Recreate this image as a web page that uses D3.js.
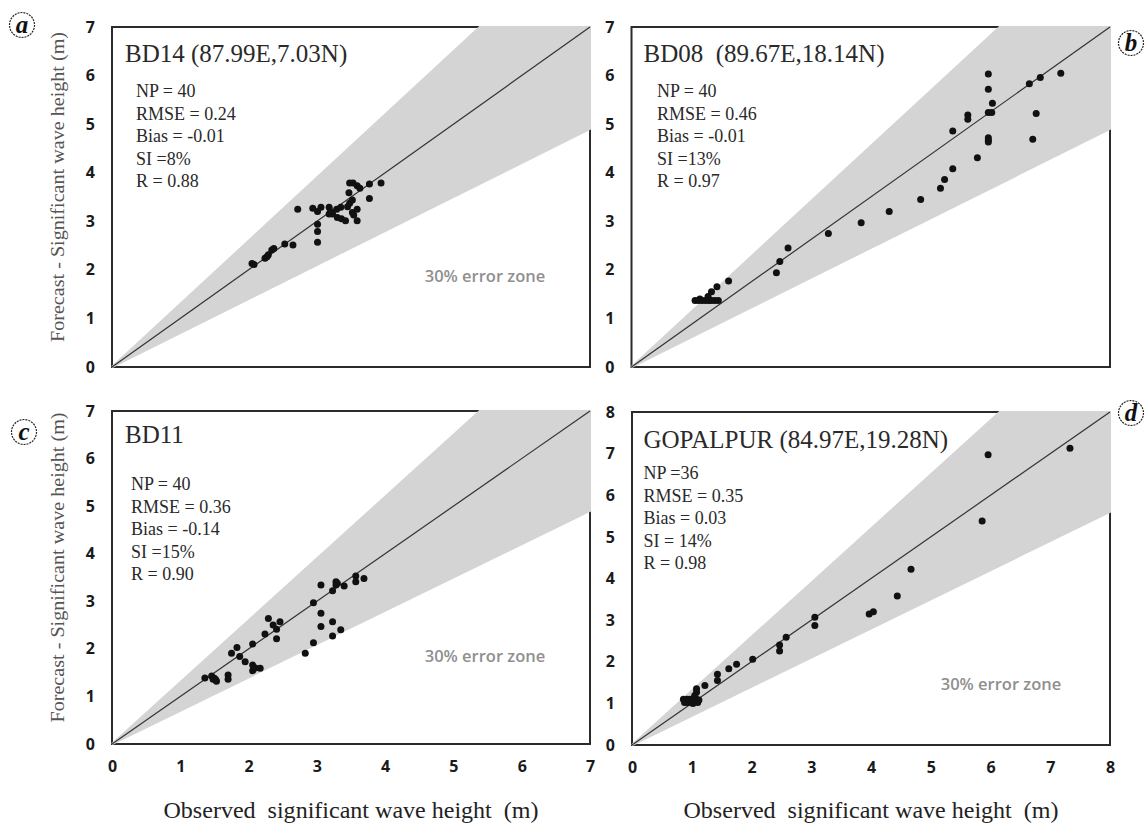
<!DOCTYPE html>
<html><head><meta charset="utf-8">
<script src="https://cdn.jsdelivr.net/npm/d3@7/dist/d3.min.js"></script>
<style>
body{margin:0;background:#fff;}
svg{display:block;}
.pre{white-space:pre;}
</style></head><body>
<svg id="chart" width="1148" height="825"></svg>
<script>
// ---------- data ----------
const ticks7 = [0, 1, 2, 3, 4, 5, 6, 7];
const ticks8 = [0, 1, 2, 3, 4, 5, 6, 7, 8];
const errorBand = 0.3; // 30% error zone

// (a) BD14
const bd14Obs = [2.05,2.08,2.24,2.27,2.29,2.34,2.37,2.53,2.65,2.72,2.94,3.01,3.06,3.01,3.01,3.01,3.18,3.18,3.23,3.29,3.35,3.30,3.36,3.42,3.48,3.47,3.48,3.53,3.59,3.63,3.52,3.52,3.59,3.54,3.59,3.77,3.77,3.94,3.20,3.45];
const bd14Fc  = [2.13,2.11,2.24,2.27,2.31,2.41,2.44,2.53,2.51,3.25,3.27,3.20,3.29,2.94,2.79,2.57,3.29,3.15,3.15,3.25,3.29,3.08,3.05,3.01,3.37,3.59,3.79,3.79,3.73,3.68,3.44,3.18,3.25,3.13,3.01,3.77,3.47,3.79,3.20,3.30];
const bd14Stats = ["NP = 40", "RMSE = 0.24", "Bias = -0.01", "SI =8%", "R = 0.88"];

// (b) BD08
const bd08Obs = [0.93,0.98,1.00,1.03,1.08,1.13,1.17,1.22,1.27,1.12,1.17,1.25,1.42,2.12,2.17,2.29,2.88,3.36,3.77,4.23,4.52,4.58,4.70,4.70,4.92,4.92,5.06,5.22,5.22,5.22,5.27,5.28,5.22,5.22,5.22,5.82,5.98,6.28,5.92,5.87];
const bd08Fc  = [1.37,1.37,1.40,1.37,1.37,1.37,1.37,1.37,1.37,1.45,1.55,1.65,1.77,1.94,2.17,2.45,2.75,2.97,3.20,3.45,3.68,3.86,4.08,4.86,5.19,5.10,4.31,6.03,5.72,5.24,5.24,5.43,4.72,4.67,4.63,5.83,5.96,6.05,5.22,4.69];
const bd08Stats = ["NP = 40", "RMSE = 0.46", "Bias = -0.01", "SI =13%", "R = 0.97"];

// (c) BD11
const bd11Obs = [1.36,1.46,1.48,1.53,1.50,1.52,1.70,1.70,1.75,1.83,1.87,1.95,2.06,2.06,2.06,2.10,2.17,2.24,2.29,2.36,2.41,2.46,2.41,2.83,2.95,2.95,3.06,3.06,3.06,3.23,3.23,3.23,3.28,3.28,3.30,3.35,3.40,3.57,3.57,3.69];
const bd11Fc  = [1.39,1.43,1.36,1.32,1.38,1.35,1.45,1.36,1.91,2.03,1.84,1.73,2.10,1.66,1.54,1.60,1.59,2.31,2.64,2.50,2.41,2.57,2.21,1.91,2.13,2.97,3.34,2.75,2.47,3.22,2.57,2.27,3.41,3.34,3.38,2.40,3.32,3.53,3.41,3.48];
const bd11Stats = ["NP = 40", "RMSE = 0.36", "Bias = -0.14", "SI =15%", "R = 0.90"];

// (d) GOPALPUR
const gopObs = [7.33,5.96,5.86,4.67,4.44,3.97,4.04,3.06,3.06,2.58,2.47,2.47,2.02,1.75,1.62,1.43,1.43,1.22,1.08,1.08,1.05,1.03,0.97,0.92,0.86,1.08,0.88,0.90,0.93,0.95,0.98,1.00,1.02,1.05,1.10,1.12];
const gopFc  = [7.13,6.97,5.38,4.22,3.58,3.15,3.20,3.07,2.87,2.59,2.40,2.26,2.06,1.94,1.83,1.70,1.55,1.43,1.35,1.27,1.19,1.12,1.10,1.10,1.10,1.10,1.02,1.05,1.02,1.07,1.03,1.06,1.00,1.04,1.02,1.08];
const gopStats = ["NP =36", "RMSE = 0.35", "Bias = 0.03", "SI = 14%", "R = 0.98"];

const xTitle = "Observed  significant wave height  (m)";
const yTitle = "Forecast - Significant wave height (m)";
const zoneText = "30% error zone";

// ---------- layout ----------
const panels = [
  {label:"a", title:"BD14 (87.99E,7.03N)", stats:bd14Stats, obs:bd14Obs, fc:bd14Fc, max:7, ticks:ticks7,
   box:[112,27,590,367], titleAt:[125,62], statsAt:[136,97], zoneAt:[485,276], xAxis:false, labelAt:[22,25], yTitle:true},
  {label:"b", title:"BD08  (89.67E,18.14N)", stats:bd08Stats, obs:bd08Obs, fc:bd08Fc, max:7, ticks:ticks7,
   box:[631.5,27,1110,367], titleAt:[643.5,62], statsAt:[657,97], zoneAt:null, xAxis:false, labelAt:[1131,43], yTitle:false},
  {label:"c", title:"BD11", stats:bd11Stats, obs:bd11Obs, fc:bd11Fc, max:7, ticks:ticks7,
   box:[112,411,590,744], titleAt:[125,443], statsAt:[131,490], zoneAt:[485,656], xAxis:true, labelAt:[24,432], yTitle:true},
  {label:"d", title:"GOPALPUR (84.97E,19.28N)", stats:gopStats, obs:gopObs, fc:gopFc, max:8, ticks:ticks8,
   box:[632,412,1110,745], titleAt:[643.5,448], statsAt:[643.5,479], zoneAt:[1001,684], xAxis:true, labelAt:[1131,413], yTitle:false}
];

const svg = d3.select("#chart");
const serif = "'Liberation Serif','DejaVu Serif',serif";
const sans = "'Open Sans','Lato',sans-serif";

panels.forEach(p => {
  const [x0,y0,x1,y1] = p.box;
  const x = d3.scaleLinear().domain([0,p.max]).range([x0,x1]);
  const y = d3.scaleLinear().domain([0,p.max]).range([y1,y0]);
  const g = svg.append("g");

  // frame
  g.append("rect").attr("x",x0).attr("y",y0).attr("width",x1-x0).attr("height",y1-y0)
    .attr("fill","#fff").attr("stroke","#2b2b2b").attr("stroke-width",2);

  // 30% error zone wedge
  const M = p.max;
  const zone = [[0,0],[M/(1+errorBand),M],[M,M],[M,M*(1-errorBand)]];
  g.append("path")
    .attr("d", d3.line().x(d=>x(d[0])).y(d=>y(d[1]))(zone) + "Z")
    .attr("fill","#d4d4d4").attr("stroke","#d4d4d4").attr("stroke-width",2);

  // 1:1 line
  g.append("line").attr("x1",x(0)).attr("y1",y(0)).attr("x2",x(M)).attr("y2",y(M))
    .attr("stroke","#333").attr("stroke-width",1.2);

  // points
  g.selectAll("circle.pt").data(d3.zip(p.obs,p.fc)).join("circle")
    .attr("class","pt").attr("cx",d=>x(d[0])).attr("cy",d=>y(d[1])).attr("r",3.5).attr("fill","#111");

  // y axis
  const ya = g.append("g").attr("transform",`translate(${x0},0)`)
    .call(d3.axisLeft(y).tickValues(p.ticks).tickFormat(d3.format("d")).tickSize(0).tickPadding(17));
  ya.select(".domain").remove();
  ya.selectAll("text").attr("font-family",sans).attr("font-weight",700).attr("font-size",16).attr("fill","#1a1a1a");

  if (p.xAxis) {
    const xa = g.append("g").attr("transform",`translate(0,${y1})`)
      .call(d3.axisBottom(x).tickValues(p.ticks).tickFormat(d3.format("d")).tickSize(0).tickPadding(17));
    xa.select(".domain").remove();
    xa.selectAll("text").attr("font-family",sans).attr("font-weight",700).attr("font-size",16).attr("fill","#1a1a1a");
    g.append("text").attr("class","pre").attr("x",(x0+x1)/2).attr("y",818).attr("text-anchor","middle")
      .attr("font-family",serif).attr("font-size",23).attr("fill","#222")
      .attr("textLength",375).attr("lengthAdjust","spacingAndGlyphs").text(xTitle);
  }
  if (p.yTitle) {
    g.append("text").attr("transform",`translate(64,${(y0+y1)/2 - 10}) rotate(-90)`).attr("text-anchor","middle")
      .attr("font-family",serif).attr("font-size",19).attr("fill","#555")
      .attr("textLength",310).attr("lengthAdjust","spacingAndGlyphs").text(yTitle);
  }

  // title & stats
  g.append("text").attr("class","pre").attr("x",p.titleAt[0]).attr("y",p.titleAt[1])
    .attr("font-family",serif).attr("font-size",25).attr("fill","#2a2a2a").text(p.title);
  g.append("g").selectAll("text").data(p.stats).join("text")
    .attr("class","pre").attr("x",p.statsAt[0]).attr("y",(d,i)=>p.statsAt[1]+i*22.5)
    .attr("font-family",serif).attr("font-size",18).attr("fill","#2a2a2a").text(d=>d);

  if (p.zoneAt) {
    g.append("text").attr("x",p.zoneAt[0]).attr("y",p.zoneAt[1]).attr("dy","0.35em").attr("text-anchor","middle")
      .attr("font-family",sans).attr("font-weight",600).attr("font-size",16.5).attr("fill","#8f8f8f").text(zoneText);
  }

  // panel letter
  const lg = g.append("g").attr("transform",`translate(${p.labelAt[0]},${p.labelAt[1]})`);
  lg.append("circle").attr("r",12.5).attr("fill","#fff").attr("stroke","#222").attr("stroke-width",1.2).attr("stroke-dasharray","2,1");
  lg.append("text").attr("text-anchor","middle").attr("dy","0.33em").attr("font-family",serif)
    .attr("font-style","italic").attr("font-weight",700).attr("font-size",25).attr("fill","#111").text(p.label);
});
</script>
</body></html>
